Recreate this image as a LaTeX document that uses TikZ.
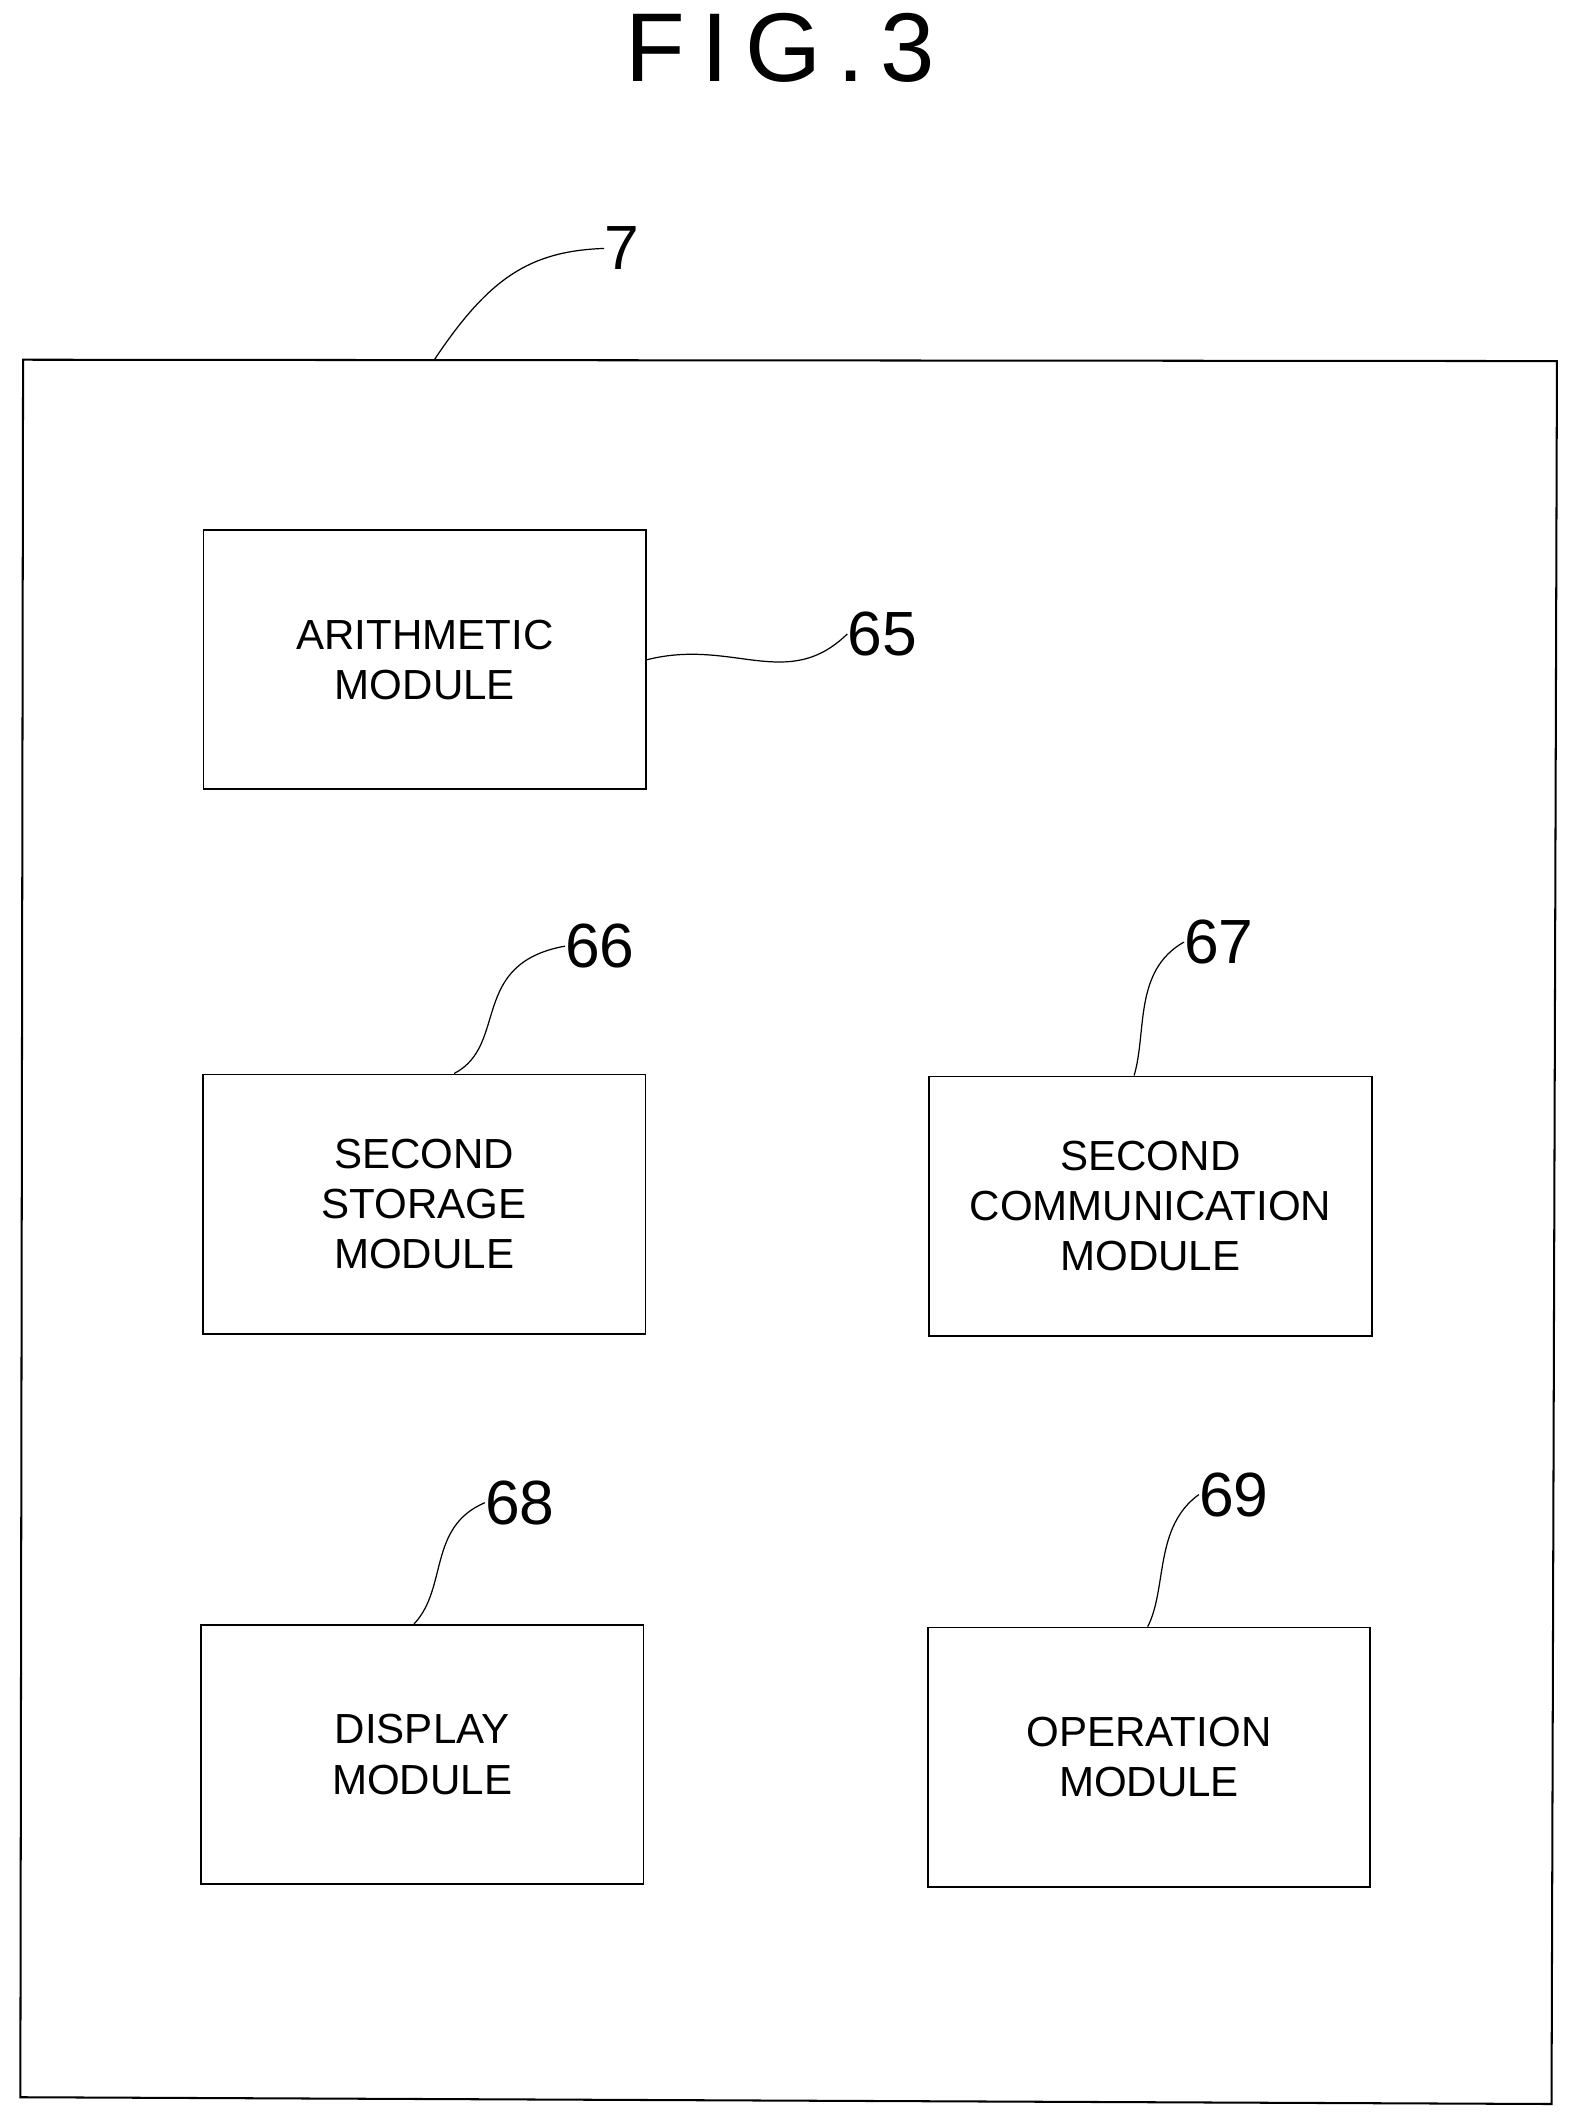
\documentclass[tikz,border=0pt]{standalone}
\usepackage{fontspec}
\setmainfont{Liberation Sans}
\begin{document}
\begin{tikzpicture}[x=1pt,y=-1pt,
  box/.style={draw,line width=1.3pt,minimum width=326pt,minimum height=191pt,align=center,font=\fontsize{31}{37}\selectfont,inner sep=0pt},
  num/.style={font=\fontsize{46}{46}\selectfont,inner sep=0pt},
  lead/.style={line width=0.9pt}]
\useasboundingbox (0,0) rectangle (1160,1564);
\node[font=\fontsize{72}{72}\selectfont] (t) at (575,35) {F\,I\,G\,.\,3};
\draw[line width=1.5pt] (17,265) coordinate (fr) -- (1147,266) -- (1143,1550) -- (15,1545) -- cycle;
\coordinate (ftop) at (320,265);
\node[box] (b65) at (313,486) {ARITHMETIC\\MODULE};
\node[box] (b66) at (312.5,887) {SECOND\\STORAGE\\MODULE};
\node[box] (b67) at (847.5,888.5) {SECOND\\COMMUNICATION\\MODULE};
\node[box] (b68) at (311,1292.5) {DISPLAY\\MODULE};
\node[box] (b69) at (846.5,1294.5) {OPERATION\\MODULE};
\node[num] (n7) at (458,183) {7};
\node[num] (n65) at (650,467) {65};
\node[num] (n66) at (442,697) {66};
\node[num] (n67) at (898,694) {67};
\node[num] (n68) at (383,1107) {68};
\node[num] (n69) at (909,1101) {69};
\draw[lead] (ftop) .. controls (360,205) and (390,185) .. (n7.west);
\draw[lead] (b65.east) .. controls (540,470) and (580,510) .. (n65.west);
\draw[lead] ([xshift=22pt]b66.north) .. controls (375,770) and (345,710) .. (n66.west);
\draw[lead] ([xshift=-12pt]b67.north) .. controls (845,760) and (835,715) .. (n67.west);
\draw[lead] ([xshift=-6pt]b68.north) .. controls (330,1170) and (315,1125) .. (n68.west);
\draw[lead] ([xshift=-1pt]b69.north) .. controls (860,1170) and (850,1125) .. (n69.west);
\end{tikzpicture}
\end{document}
